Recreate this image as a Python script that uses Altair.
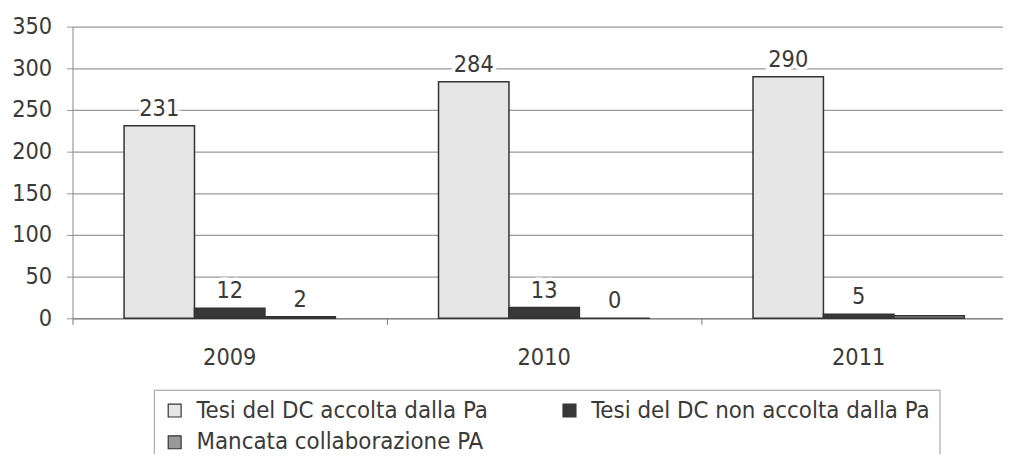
import altair as alt
import pandas as pd

years = ["2009", "2010", "2011"]
series = ["Tesi del DC accolta dalla Pa", "Tesi del DC non accolta dalla Pa", "Mancata collaborazione PA"]
accolta = [231, 284, 290]
non_accolta = [12, 13, 5]
mancata = [2, 0, 3]
mancata_labels = ["2", "0", ""]
y_ticks = [0, 50, 100, 150, 200, 250, 300, 350]
colors = ["#e6e6e6", "#383838", "#999999"]

rows = []
for i, yr in enumerate(years):
    rows.append({"year": yr, "series": series[0], "value": accolta[i], "label": str(accolta[i])})
    rows.append({"year": yr, "series": series[1], "value": non_accolta[i], "label": str(non_accolta[i])})
    rows.append({"year": yr, "series": series[2], "value": mancata[i], "label": mancata_labels[i]})
df = pd.DataFrame(rows)

FONT = "DejaVu Sans Condensed"
TXT = "#3a3a3a"
FS = 23.5

base = alt.Chart(df).encode(
    x=alt.X("year:N", title=None, sort=years,
            scale=alt.Scale(paddingInner=0.328, paddingOuter=0.164, range=[0, 951]),
            axis=alt.Axis(labelAngle=0, labelFontSize=FS, labelColor=TXT, labelFont=FONT,
                          labelPadding=22, domainColor="#777", tickColor="#777",
                          tickSize=6, bandPosition=-0.244, grid=False)),
    xOffset=alt.XOffset("series:N", sort=series),
    y=alt.Y("value:Q", title=None, scale=alt.Scale(domain=[0, 350], nice=False),
            axis=alt.Axis(values=y_ticks, labelFontSize=FS, labelColor=TXT, labelFont=FONT,
                          labelPadding=15, tickSize=6, tickColor="#999", domainColor="#888",
                          gridColor="#999", gridWidth=1.2)),
)

bars = base.mark_bar(stroke="#333", strokeWidth=1.5).encode(
    color=alt.Color("series:N", sort=series,
                    scale=alt.Scale(domain=series, range=colors),
                    legend=alt.Legend(title=None, orient="none", legendX=82, legendY=366,
                                      direction="horizontal", columns=2, columnPadding=70,
                                      rowPadding=8, labelFontSize=24, labelFont=FONT,
                                      labelColor=TXT, labelOffset=10,
                                      symbolType="square", symbolSize=169,
                                      symbolStrokeColor="#333", symbolStrokeWidth=1.2,
                                      strokeColor="#999", padding=9, labelLimit=500))
)

halo = base.mark_text(dy=-10, baseline="alphabetic", fontSize=FS, font=FONT, color="white",
                      stroke="white", strokeWidth=7).encode(text="label:N")
labels = base.mark_text(dy=-10, baseline="alphabetic", fontSize=FS, font=FONT,
                        color=TXT).encode(text="label:N")

chart = alt.layer(bars, halo, labels).properties(
    width=938, height=294,
    autosize=alt.AutoSizeParams(type="none"),
    padding={"left": 65, "top": 17, "right": 0, "bottom": 135},
).configure_view(stroke=None)

chart.save("out.html", embed_options={"renderer": "svg", "actions": False})
